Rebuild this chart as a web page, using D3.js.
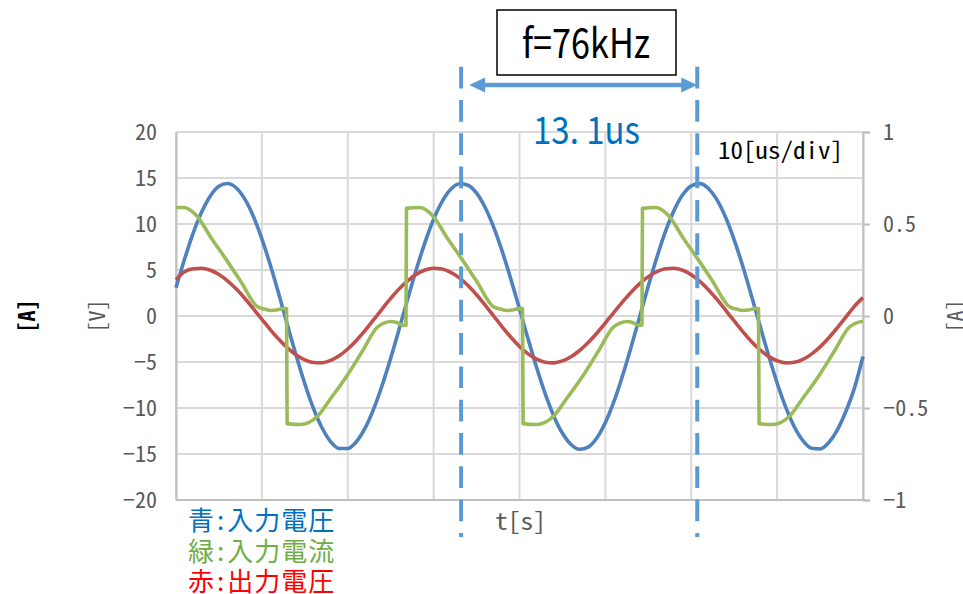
<!DOCTYPE html>
<html>
<head>
<meta charset="utf-8">
<script src="https://cdn.jsdelivr.net/npm/d3@7"></script>
<style>
  html, body { margin: 0; padding: 0; background: #fff; }
  svg { display: block; }
  .mono { font-family: "Noto Sans Mono CJK JP", "Noto Sans CJK JP", "DejaVu Sans Mono", monospace; }
  .jp { font-family: "Noto Sans CJK JP", "Noto Sans", sans-serif; }
</style>
</head>
<body>
<svg id="chart" width="963" height="594"></svg>
<script>
// sample times [us], one sample per microsecond
const timeUs = d3.range(0, 81, 1);

// blue: input voltage [V]
const inputVoltage = [
  3.08, 6.19, 9.00, 11.32, 13.05, 14.10,
  14.40, 13.94, 12.73, 10.85, 8.39, 5.48, 2.28, -1.05, -4.32, -7.36, -10.03, -12.15, -13.64, -14.40,
  -14.41, -13.67, -12.22, -10.15, -7.56, -4.58, -1.37, 1.92, 5.10, 8.01, 10.51, 12.46, 13.77, 14.37,
  14.22, 13.35, 11.79, 9.63, 6.99, 3.98, 0.77, -2.49, -5.62, -8.46, -10.89, -12.75, -13.97, -14.49,
  -14.25, -13.27, -11.58, -9.29, -6.49, -3.36, -0.05, 3.26, 6.39, 9.19, 11.48, 13.17, 14.15,
  14.39, 13.86, 12.63, 10.73, 8.28, 5.40, 2.24, -1.04, -4.27, -7.28, -9.90, -12.04, -13.55, -14.37,
  -14.44, -13.77, -12.40, -10.38, -7.84, -4.40
];

// red: output voltage [V]
const outputVoltage = [
  3.95, 4.82, 5.14, 5.19, 4.98, 4.52, 3.83, 2.95, 1.93, 0.80, -0.36, -1.50, -2.56, -3.49, -4.23, -4.77, -5.05,
  -5.08, -4.83, -4.33, -3.59, -2.66, -1.59, -0.42, 0.76, 1.91, 2.96, 3.85, 4.55, 5.00, 5.19,
  5.11, 4.75, 4.14, 3.31, 2.31, 1.18, -0.01, -1.20, -2.31, -3.31, -4.12, -4.70, -5.03,
  -5.09, -4.88, -4.43, -3.75, -2.88, -1.87, -0.76, 0.40, 1.53, 2.59, 3.52, 4.28, 4.83, 5.14,
  5.19, 4.97, 4.49, 3.77, 2.86, 1.80, 0.64, -0.54, -1.70, -2.76, -3.67, -4.39, -4.87, -5.09,
  -5.03, -4.71, -4.14, -3.35, -2.39, -1.29, -0.13, 1.05, 2.00
];

// green: input current (drawn on the left scale), sampled at its own break points
const currentT = [
  0, 0.93, 1.69, 2.50, 4.02, 5.65, 7.51, 9.49, 10.31, 11.00, 11.70, 12.40, 12.87,
  12.94, 14.50, 15.43, 16.48, 17.99, 19.97, 21.72, 23.46, 24.28, 24.98, 25.68, 26.38, 26.78,
  26.84, 28.41, 29.17, 29.98, 31.50, 33.13, 34.99, 36.97, 37.79, 38.48, 39.18, 39.88, 40.35,
  40.42, 41.98, 42.91, 43.96, 45.47, 47.45, 49.20, 50.94, 51.76, 52.46, 53.16, 53.86, 54.26,
  54.32, 55.89, 56.65, 57.46, 58.98, 60.61, 62.47, 64.45, 65.27, 65.96, 66.66, 67.36, 67.83,
  67.90, 69.46, 70.39, 71.44, 72.95, 74.93, 76.68, 78.42, 79.24, 79.94, 80
];
const inputCurrent = [
  11.8, 11.8, 11.5, 10.8, 8.6, 6.4, 3.8, 1.0, 0.75, 0.6, 0.65, 0.8, 0.8,
  -11.7, -11.8, -11.6, -10.9, -9.0, -6.4, -3.8, -1.2, -0.75, -0.6, -0.7, -1.0, -1.0,
  11.7, 11.8, 11.5, 10.8, 8.6, 6.4, 3.8, 1.0, 0.75, 0.6, 0.65, 0.8, 0.8,
  -11.7, -11.8, -11.6, -10.9, -9.0, -6.4, -3.8, -1.2, -0.75, -0.6, -0.7, -1.0, -1.0,
  11.7, 11.8, 11.5, 10.8, 8.6, 6.4, 3.8, 1.0, 0.75, 0.6, 0.65, 0.8, 0.8,
  -11.7, -11.8, -11.6, -10.9, -9.0, -6.4, -3.8, -1.2, -0.75, -0.6, -0.6
];

const leftTicks = [-20, -15, -10, -5, 0, 5, 10, 15, 20];
const rightTicks = [-1, -0.5, 0, 0.5, 1];
const timeTicks = [0, 10, 20, 30, 40, 50, 60, 70, 80];
const markerTimes = [33.2, 60.7];   // dashed period markers
const legendRows = [
  { head: "青", tail: "入力電圧", color: "#0070C0" },
  { head: "緑", tail: "入力電流", color: "#70AD47" },
  { head: "赤", tail: "出力電圧", color: "#FF0000" }
];

const svg = d3.select("#chart");
const x = d3.scaleLinear().domain([0, 80]).range([176, 863]);
const yL = d3.scaleLinear().domain([-20, 20]).range([500, 132]);
const yR = d3.scaleLinear().domain([-1, 1]).range([500, 132]);

svg.append("rect").attr("width", 963).attr("height", 594).attr("fill", "#fff");

// grid
const grid = svg.append("g").attr("stroke", "#D9D9D9").attr("stroke-width", 2);
grid.selectAll("line.h").data(leftTicks).join("line")
  .attr("x1", x(0)).attr("x2", x(80))
  .attr("y1", d => yL(d)).attr("y2", d => yL(d));
grid.selectAll("line.v").data(timeTicks).join("line")
  .attr("x1", d => x(d)).attr("x2", d => x(d))
  .attr("y1", yL(20)).attr("y2", yL(-20));

// axes
svg.append("g")
  .attr("transform", `translate(${x(0)},0)`)
  .call(d3.axisLeft(yL).tickValues(leftTicks).tickSize(0).tickPadding(19))
  .call(g => g.select(".domain").attr("stroke", "#BFBFBF").attr("stroke-width", 2))
  .call(g => g.selectAll("text").attr("class", "mono").attr("font-size", 22).attr("fill", "#595959"));

svg.append("g")
  .attr("transform", `translate(${x(80)},0)`)
  .call(d3.axisRight(yR).tickValues(rightTicks).tickSize(7).tickPadding(13).tickFormat(d3.format("")))
  .call(g => g.select(".domain").attr("stroke", "#BFBFBF").attr("stroke-width", 2))
  .call(g => g.selectAll(".tick line").attr("stroke", "#BFBFBF").attr("stroke-width", 2))
  .call(g => g.selectAll("text").attr("class", "mono").attr("font-size", 22).attr("fill", "#595959"));

svg.append("line")
  .attr("x1", x(0)).attr("x2", x(80)).attr("y1", yL(-20)).attr("y2", yL(-20))
  .attr("stroke", "#BFBFBF").attr("stroke-width", 2);

// series
const line = d3.line().x(d => x(d[0])).y(d => yL(d[1])).curve(d3.curveMonotoneX);
const series = [
  { pts: d3.zip(timeUs, inputVoltage), color: "#4F81BD" },
  { pts: d3.zip(timeUs, outputVoltage), color: "#C0504D" },
  { pts: d3.zip(currentT, inputCurrent), color: "#9BBB59" }
];
svg.append("g").selectAll("path").data(series).join("path")
  .attr("d", d => line(d.pts))
  .attr("fill", "none")
  .attr("stroke", d => d.color)
  .attr("stroke-width", 3.6)
  .attr("stroke-linejoin", "round");

// period markers
svg.append("g").selectAll("line").data(markerTimes).join("line")
  .attr("x1", d => x(d)).attr("x2", d => x(d))
  .attr("y1", 66.7).attr("y2", 537)
  .attr("stroke", "#5B9BD5").attr("stroke-width", 4)
  .attr("stroke-dasharray", "21.7,11.6");

const ax0 = x(markerTimes[0]) + 8, ax1 = x(markerTimes[1]);
const arrowY = 85;
svg.append("line")
  .attr("x1", ax0 + 10).attr("x2", ax1 - 10).attr("y1", arrowY).attr("y2", arrowY)
  .attr("stroke", "#5B9BD5").attr("stroke-width", 4.5);
svg.append("path")
  .attr("d", `M${ax0},${arrowY} L${ax0 + 16},${arrowY - 7.5} L${ax0 + 16},${arrowY + 7.5} Z
              M${ax1},${arrowY} L${ax1 - 16},${arrowY - 7.5} L${ax1 - 16},${arrowY + 7.5} Z`)
  .attr("fill", "#5B9BD5");

// frequency box
svg.append("rect")
  .attr("x", 497).attr("y", 10).attr("width", 179).attr("height", 65)
  .attr("fill", "#fff").attr("stroke", "#000").attr("stroke-width", 1.5);
svg.append("text").attr("class", "jp")
  .attr("x", 522).attr("y", 58).attr("font-size", 41)
  .attr("textLength", 128).attr("lengthAdjust", "spacingAndGlyphs")
  .attr("fill", "#000").text("f=76kHz");

svg.append("text").attr("class", "jp")
  .attr("x", 533).attr("y", 144).attr("font-size", 38)
  .attr("textLength", 107).attr("lengthAdjust", "spacingAndGlyphs")
  .attr("fill", "#0070C0").text("13. 1us");

svg.append("text").attr("class", "mono")
  .attr("x", 718).attr("y", 159).attr("font-size", 23)
  .attr("textLength", 125).attr("lengthAdjust", "spacingAndGlyphs")
  .attr("fill", "#000").text("10[us/div]");

svg.append("text").attr("class", "mono")
  .attr("x", 495).attr("y", 530).attr("font-size", 24)
  .attr("textLength", 51).attr("lengthAdjust", "spacingAndGlyphs")
  .attr("fill", "#595959").text("t[s]");

// axis titles
const titles = [
  { text: "[A]", cx: 25, color: "#000", weight: 700 },
  { text: "[V]", cx: 95, color: "#595959", weight: 400 },
  { text: "[A]", cx: 953, color: "#595959", weight: 400 }
];
svg.append("g").selectAll("text").data(titles).join("text")
  .attr("class", "mono")
  .attr("transform", d => `translate(${d.cx},316) rotate(-90)`)
  .attr("text-anchor", "middle").attr("dominant-baseline", "central")
  .attr("font-size", 22).attr("font-weight", d => d.weight)
  .attr("fill", d => d.color).text(d => d.text);

// legend
const legend = svg.append("g").selectAll("text").data(legendRows).join("text")
  .attr("class", "jp")
  .attr("x", 188).attr("y", (d, i) => 530 + i * 30.5)
  .attr("font-size", 26).attr("letter-spacing", 1)
  .attr("fill", d => d.color);
legend.append("tspan").text(d => d.head);
legend.append("tspan").attr("dx", 2).text(":");
legend.append("tspan").attr("dx", 2).text(d => d.tail);
</script>
</body>
</html>
